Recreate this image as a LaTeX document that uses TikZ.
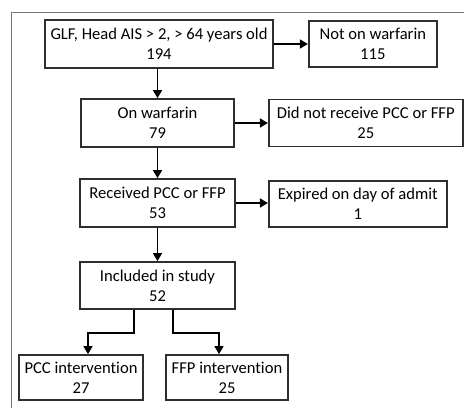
\documentclass[tikz,border=0pt]{standalone}
\usepackage{fontspec}
\setmainfont{Carlito}[Ligatures={NoCommon}]
\usetikzlibrary{arrows.meta, positioning}
\definecolor{boxline}{HTML}{2E2E2E}
\definecolor{frameline}{HTML}{777777}
\tikzset{
  >=Latex,
  font=\fontsize{16.6}{20}\selectfont,
  box/.style={
    draw=boxline, fill=white, line width=1.8pt,
    align=center, inner sep=2pt, minimum height=#1
  },
  box/.default=47pt,
  arr/.style={-{Triangle[length=8pt,width=9pt]}, line width=1.6pt, draw=black},
  frame/.style={draw=frameline, line width=0.8pt}
}
\begin{document}
\begin{tikzpicture}[x=1pt,y=-1pt]
  \useasboundingbox (0,0) rectangle (464,408);
  \draw[frame] (11,408) |- (464,12);
  % main column
  \node[box=48pt, minimum width=228pt] (GLF) at (159,44) {GLF, Head AIS > 2, > 64 years old\\194};
  \node[box=48pt, minimum width=153pt] (OnW) at (157.5,123) {On warfarin\\79};
  \node[box=48pt, minimum width=155pt] (Rec) at (157.5,203) {Received PCC or FFP\\53};
  \node[box, minimum width=155pt] (Inc) at (157.5,285.5) {Included in study\\52};
  % excluded
  \node[box=46pt, minimum width=128pt, right=34pt of GLF] (NotOn) {Not on warfarin\\115};
  \node[box, minimum width=194pt, right=33pt of OnW] (DidNot) {Did not receive PCC or FFP\\25};
  \node[box=46pt, minimum width=178pt, right=32pt of Rec, yshift=-1pt] (Exp) {Expired on day of admit\\1};
  % groups
  \node[box=45pt, minimum width=124pt] (PCC) at (81,377.5) {PCC intervention\\27};
  \node[box=45pt, minimum width=122pt] (FFP) at (227,377.5) {FFP intervention\\25};
  % arrows
  \draw[arr] (GLF.south -| OnW.north) -- (OnW.north);
  \draw[arr] (OnW) -- (Rec);
  \draw[arr] (Rec) -- (Inc);
  \draw[arr] (GLF.east) -- (NotOn.west);
  \draw[arr] (OnW.east) -- (DidNot.west);
  \draw[arr] (Rec.east) -- (Exp.west |- Rec.east);
  \draw[arr] ([xshift=-23.5pt]Inc.south) -- ++(0,23) -| ([xshift=7pt]PCC.north);
  \draw[arr] ([xshift=15.5pt]Inc.south) -- ++(0,23) -| ([xshift=-8pt]FFP.north);
\end{tikzpicture}
\end{document}
